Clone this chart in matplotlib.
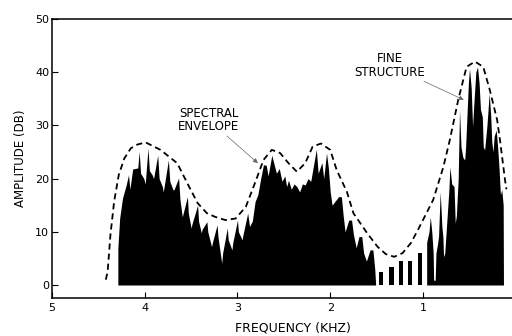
import numpy as np
import matplotlib.pyplot as plt

# spectral envelope (dashed) - freq in kHz, amplitude in dB
env_f = [4.42, 4.40, 4.37, 4.33, 4.28, 4.22, 4.15, 4.08, 3.99, 3.83, 3.65, 3.54, 3.43,
         3.33, 3.24, 3.13, 3.02, 2.91, 2.80, 2.72, 2.63, 2.54, 2.45, 2.36, 2.27, 2.19,
         2.10, 2.00, 1.93, 1.82, 1.75, 1.60, 1.49, 1.40, 1.31, 1.22, 1.13, 1.05, 0.89,
         0.78, 0.71, 0.62, 0.53, 0.44, 0.35, 0.28, 0.20, 0.17, 0.115, 0.10]
env_db = [1.0, 2.5, 9.4, 15.7, 20.7, 23.8, 25.7, 26.4, 26.8, 25.4, 22.9, 19.1, 15.4,
          13.5, 12.8, 12.2, 12.5, 14.7, 19.7, 23.5, 25.4, 24.8, 22.9, 21.3, 22.9, 26.0,
          26.6, 25.4, 21.6, 17.5, 13.5, 9.7, 7.2, 5.8, 5.3, 6.0, 7.9, 10.5, 16.0,
          22.2, 27.3, 34.8, 41.0, 42.0, 41.0, 36.7, 31.0, 27.3, 19.7, 18.0]

# fine structure, dense band 4.3 - 1.5 kHz (upper edge: harmonic spikes and notches)
fine_f = [4.29, 4.29, 4.27, 4.24, 4.20, 4.175, 4.16, 4.13, 4.075, 4.06, 4.045, 4.01,
          3.995, 3.965, 3.95, 3.92, 3.905, 3.86, 3.845, 3.81, 3.80, 3.745, 3.73, 3.695,
          3.685, 3.635, 3.62, 3.595, 3.585, 3.54, 3.53, 3.50, 3.49, 3.43, 3.42, 3.39,
          3.38, 3.33, 3.32, 3.28, 3.27, 3.22, 3.21, 3.17, 3.16, 3.11, 3.10, 3.06, 3.05,
          3.00, 2.99, 2.95, 2.94, 2.89, 2.87, 2.84, 2.81, 2.78, 2.75, 2.72, 2.69, 2.67,
          2.63, 2.61, 2.58, 2.55, 2.52, 2.49, 2.47, 2.45, 2.42, 2.39, 2.36, 2.33, 2.30,
          2.27, 2.24, 2.21, 2.15, 2.13, 2.11, 2.09, 2.07, 2.04, 2.02, 2.00, 1.98, 1.91,
          1.88, 1.86, 1.84, 1.80, 1.77, 1.75, 1.72, 1.69, 1.66, 1.64, 1.61, 1.57, 1.54,
          1.52, 1.51]
fine_db = [0, 6.9, 12.6, 16.3, 18.8, 20.7, 18.0, 21.8, 22.0, 25.1, 21.0, 20.0,
           19.0, 25.7, 21.5, 20.7, 20.0, 24.4, 20.0, 18.5, 17.5, 23.5, 19.5, 17.9,
           17.9, 20.1, 16.0, 12.8, 13.5, 16.6, 13.5, 10.7, 11.5, 15.0, 12.0, 9.8,
           10.5, 11.9, 10.0, 7.2, 8.0, 11.3, 9.0, 4.1, 6.0, 10.7, 8.5, 6.6, 8.0,
           12.2, 10.0, 8.5, 9.5, 13.5, 11.0, 12.0, 15.7, 17.0, 20.0, 22.6, 22.5, 20.5,
           24.4, 23.0, 21.0, 21.9, 19.5, 20.5, 18.5, 19.7, 18.0, 19.0, 18.5, 17.5, 19.0,
           18.8, 20.0, 19.5, 25.5, 21.0, 22.0, 23.0, 20.0, 24.8, 22.0, 17.5, 15.0, 16.6,
           16.6, 13.0, 10.0, 12.2, 12.2, 9.5, 7.0, 9.1, 9.1, 6.0, 4.5, 6.6, 6.6,
           3.0, 0]

# fine structure, low band 0.96 - 0.13 kHz
low_f = [0.96, 0.96, 0.935, 0.921, 0.905, 0.89, 0.885, 0.868, 0.86, 0.845, 0.832,
         0.814, 0.796, 0.785, 0.778, 0.765, 0.75, 0.72, 0.71, 0.69, 0.665, 0.652,
         0.64, 0.62, 0.606, 0.59, 0.57, 0.55, 0.54, 0.51, 0.498, 0.48, 0.465, 0.455,
         0.43, 0.412, 0.395, 0.38, 0.36, 0.35, 0.335, 0.31, 0.286, 0.27, 0.258, 0.245,
         0.232, 0.21, 0.195, 0.18, 0.165, 0.15, 0.135, 0.132]
low_db = [0, 8.0, 10.0, 12.8, 10.0, 6.0, 0.9, 0.9, 6.0, 7.5, 9.1,
          17.5, 11.0, 9.0, 5.3, 6.0, 10.0, 18.0, 22.2, 19.0, 18.5, 11.6,
          13.0, 20.0, 32.9, 26.0, 24.0, 23.5, 26.0, 38.0, 40.7, 37.0, 29.8, 33.0,
          40.0, 41.0, 38.0, 33.0, 31.6, 26.0, 25.4, 30.0, 36.0, 32.0, 27.0, 25.0,
          28.0, 29.1, 26.0, 22.0, 17.0, 17.9, 15.0, 0]

# isolated harmonics between 1.5 and 1.0 kHz
harm_f = [1.45, 1.34, 1.24, 1.14, 1.03]
harm_db = [2.5, 3.4, 4.6, 4.5, 6.0]

fig = plt.figure(figsize=(5.12, 3.36), dpi=100)
ax = fig.add_axes([52 / 512, 38.5 / 336, 1 - 52 / 512, 278.5 / 336])

ax.fill_between(fine_f, fine_db, 0, color='black', linewidth=0)
ax.fill_between(low_f, low_db, 0, color='black', linewidth=0)
ax.bar(harm_f, harm_db, width=0.045, color='black', linewidth=0)
ax.plot(env_f, env_db, color='black', linestyle=(0, (3.4, 2.2)), linewidth=1.3)

ax.set_xlim(5, 0.04)
ax.set_ylim(-2.35, 50)
ax.set_xticks([5, 4, 3, 2, 1])
ax.set_yticks([0, 10, 20, 30, 40, 50])
ax.tick_params(direction='in', length=4, width=0.8, labelsize=8, pad=4)
ax.tick_params(axis='y', pad=2)
ax.spines['right'].set_visible(False)
for s in ['left', 'bottom', 'top']:
    ax.spines[s].set_linewidth(1.1)

ax.set_xlabel('FREQUENCY (KHZ)', fontsize=9)
ax.xaxis.set_label_coords(0.524, -0.085)
ax.set_ylabel('AMPLITUDE (DB)', fontsize=8.5, labelpad=6)

arrow = dict(arrowstyle='-|>', color='0.4', lw=0.5, mutation_scale=7, shrinkA=0, shrinkB=0)
ax.annotate('SPECTRAL\nENVELOPE', xy=(2.78, 22.9), xytext=(3.31, 31.0), fontsize=8.5,
            ha='center', va='center', linespacing=1.05, arrowprops=arrow)
ax.annotate('FINE\nSTRUCTURE', xy=(0.56, 34.8), xytext=(1.36, 41.3), fontsize=8.5,
            ha='center', va='center', linespacing=1.05, arrowprops=arrow)

fig.savefig('out.png', dpi=100)
